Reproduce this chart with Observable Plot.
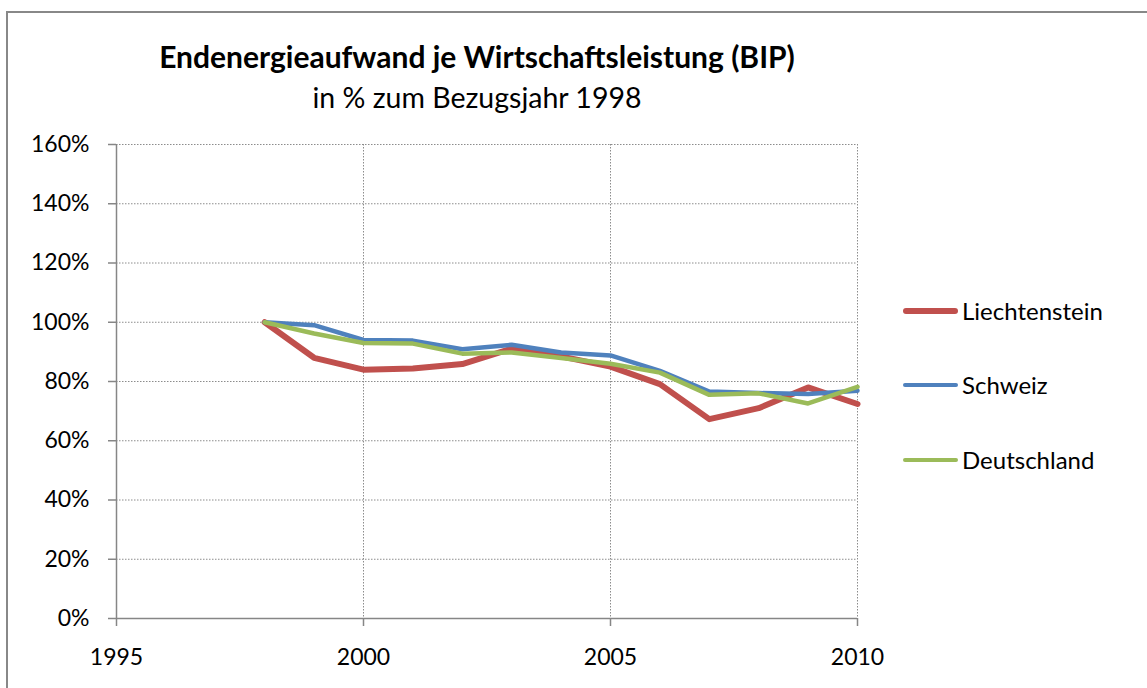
<!DOCTYPE html>
<html>
<head>
<meta charset="utf-8">
<script src="https://cdn.jsdelivr.net/npm/d3@7"></script>
<script src="https://cdn.jsdelivr.net/npm/@observablehq/plot@0.6"></script>
<style>
  html, body { margin: 0; padding: 0; background: #fff; overflow: hidden; }
  #wrap { position: relative; width: 1147px; height: 688px; overflow: hidden; font-family: Lato, "Noto Sans", sans-serif; }
  #frame { position: absolute; left: 6px; top: 11px; width: 2000px; height: 2000px; border: 2px solid #888; box-sizing: border-box; }
  #chart { position: absolute; left: 0; top: 0; }
  .title { position: absolute; left: 0; width: 954px; text-align: center; color: #000; white-space: nowrap; line-height: 1.2; }
  #t1 { top: 38px; font-weight: bold; font-size: 30px; }
  #t2 { top: 80px; font-size: 28.5px; }
  .leg { position: absolute; left: 903px; height: 0; }
  .leg .sw { position: absolute; left: 0; width: 55px; border-radius: 3px; }
  .leg .lb { position: absolute; left: 59px; top: -15px; font-size: 24px; line-height: 30px; color: #000; white-space: nowrap; }
</style>
</head>
<body>
<div id="wrap">
  <div id="frame"></div>
  <div id="chart"></div>
  <div class="title" id="t1">Endenergieaufwand je Wirtschaftsleistung (BIP)</div>
  <div class="title" id="t2">in % zum Bezugsjahr 1998</div>
  <div id="legend"></div>
</div>
<script>
const years = [1998, 1999, 2000, 2001, 2002, 2003, 2004, 2005, 2006, 2007, 2008, 2009, 2010];
const liechtenstein = [100, 88, 84, 84.4, 85.9, 91.1, 88.5, 85, 79.1, 67.3, 71, 78, 72.4];
const schweiz = [100, 99, 94, 93.8, 90.9, 92.4, 89.8, 88.8, 83.6, 76.6, 76.1, 75.8, 76.9];
const deutschland = [100, 96.2, 93, 92.8, 89.4, 89.8, 87.9, 86, 83, 75.5, 76, 72.6, 78.2];
const seriesNames = ["Liechtenstein", "Schweiz", "Deutschland"];
const seriesColors = ["#C0504D", "#4F81BD", "#9BBB59"];
const seriesWidths = [6, 4.5, 4.5];
const yTicks = [0, 20, 40, 60, 80, 100, 120, 140, 160];
const xTicks = [1995, 2000, 2005, 2010];

const seriesValues = [liechtenstein, schweiz, deutschland];
const rows = [];
seriesNames.forEach((name, i) => {
  years.forEach((yr, j) => rows.push({series: name, year: yr, value: seriesValues[i][j]}));
});

const gridGray = "#8c8c8c";
const axisGray = "#868686";

const lineMarks = seriesNames.map((name, i) =>
  Plot.line(rows.filter(d => d.series === name), {
    x: "year", y: "value",
    stroke: seriesColors[i], strokeWidth: seriesWidths[i],
    strokeLinejoin: "round", strokeLinecap: "round"
  })
);

const chart = Plot.plot({
  width: 1147,
  height: 688,
  marginTop: 144,
  marginBottom: 70,
  marginLeft: 116,
  marginRight: 290,
  style: {fontFamily: "Lato, 'Noto Sans', sans-serif", background: "transparent", overflow: "visible"},
  x: {domain: [1995, 2010]},
  y: {domain: [0, 160]},
  marks: [
    Plot.ruleY(yTicks.filter(d => d > 0), {stroke: gridGray, strokeWidth: 1, strokeDasharray: "1.5,1.5"}),
    Plot.ruleX(xTicks.filter(d => d > 1995), {stroke: gridGray, strokeWidth: 1, strokeDasharray: "1.5,1.5"}),
    Plot.ruleY([0], {stroke: axisGray, strokeWidth: 1.5}),
    Plot.ruleX([1995], {stroke: axisGray, strokeWidth: 1.5}),
    Plot.axisY({ticks: yTicks, tickSize: 8, tickPadding: 19, stroke: axisGray, strokeWidth: 1.5, fill: "#000",
      fontSize: 23, tickFormat: d => d + "%", label: null}),
    Plot.axisX({ticks: xTicks, tickSize: 8, tickPadding: 22, stroke: axisGray, strokeWidth: 1.5, fill: "#000",
      fontSize: 23, tickFormat: d => String(d), label: null}),
    ...lineMarks
  ]
});
document.getElementById("chart").appendChild(chart);

// legend
const legendY = [311, 385, 460];
const legend = document.getElementById("legend");
seriesNames.forEach((name, i) => {
  const item = document.createElement("div");
  item.className = "leg";
  item.style.top = legendY[i] + "px";
  const sw = document.createElement("div");
  sw.className = "sw";
  sw.style.background = seriesColors[i];
  sw.style.height = seriesWidths[i] + "px";
  sw.style.top = (-seriesWidths[i] / 2) + "px";
  const lb = document.createElement("div");
  lb.className = "lb";
  lb.textContent = name;
  item.appendChild(sw);
  item.appendChild(lb);
  legend.appendChild(item);
});
</script>
</body>
</html>
